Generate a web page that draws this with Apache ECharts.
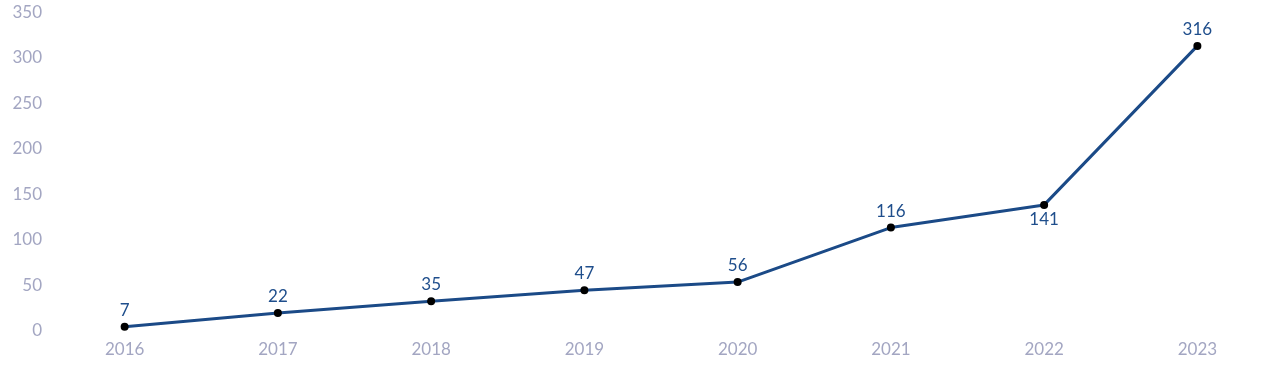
<!DOCTYPE html>
<html>
<head>
<meta charset="utf-8">
<script src="https://cdn.jsdelivr.net/npm/echarts@6/dist/echarts.min.js"></script>
<style>
html,body{margin:0;padding:0;background:#fff;}
#chart{width:1280px;height:382px;}
</style>
</head>
<body>
<div id="chart"></div>
<script>
const years = ['2016','2017','2018','2019','2020','2021','2022','2023'];
const values = [7, 22, 35, 47, 56, 116, 141, 316];
const labelBelow = ['2022'];

const chart = echarts.init(document.getElementById('chart'));
const data = values.map((v, i) => {
  const d = { value: v };
  if (labelBelow.includes(years[i])) d.label = { position: 'bottom', distance: 2 };
  return d;
});
chart.setOption({
  animation: false,
  grid: { left: 48, right: 6, top: 15, bottom: 49 },
  xAxis: {
    type: 'category',
    data: years,
    boundaryGap: true,
    axisLine: { show: false },
    axisTick: { show: false },
    axisLabel: { color: '#a3a6c2', fontFamily: 'Lato', fontSize: 17, margin: 8 }
  },
  yAxis: {
    type: 'value',
    min: 0, max: 350, interval: 50,
    splitLine: { show: false },
    axisLine: { show: false },
    axisTick: { show: false },
    axisLabel: { color: '#a3a6c2', fontFamily: 'Lato', fontSize: 17, margin: 6, verticalAlign: 'bottom', lineHeight: 5 }
  },
  series: [{
    type: 'line',
    data: data,
    symbol: 'circle',
    symbolSize: 8,
    itemStyle: { color: '#000' },
    lineStyle: { color: '#1b4a87', width: 3 },
    label: { show: true, position: 'top', distance: 4, color: '#1f4e8c', fontFamily: 'Lato', fontSize: 17 }
  }]
});
</script>
</body>
</html>
